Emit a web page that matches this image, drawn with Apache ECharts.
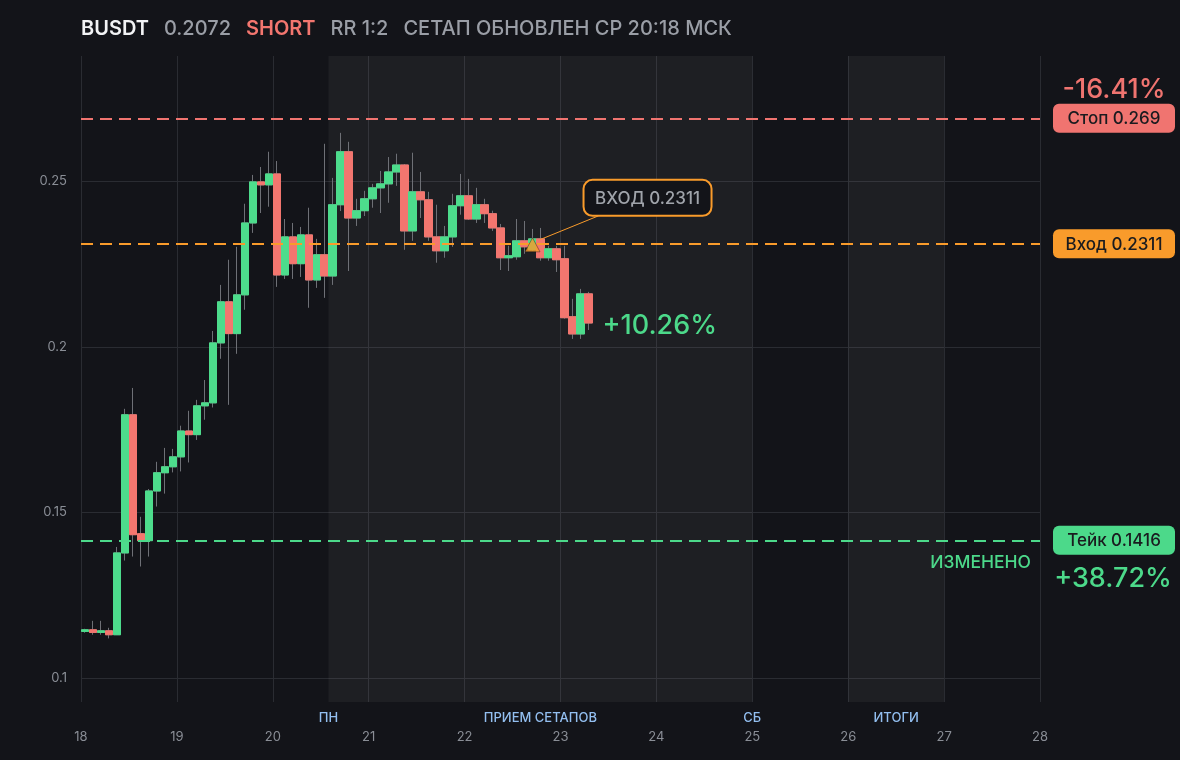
<!DOCTYPE html>
<html>
<head>
<meta charset="utf-8">
<script src="https://cdn.jsdelivr.net/npm/echarts@6/dist/echarts.min.js"></script>
<style>
html,body{margin:0;padding:0;background:#131419;}
#chart{width:1180px;height:760px;}
</style>
</head>
<body>
<div id="chart"></div>
<script>
// ---- header texts ----
const symbolName = 'BUSDT';
const lastPrice = '0.2072';
const sideText = 'SHORT';
const rrText = 'RR 1:2';
const updatedText = 'СЕТАП ОБНОВЛЕН СР 20:18 МСК';

// ---- candles: 2-hour bars starting on day 18 ----
const startDay = 18;
const barHours = 2;
const opens  = [0.1141,0.1146,0.1138,0.1143,0.1131,0.1378,0.1795,0.1436,0.1415,0.1565,0.1620,0.1638,0.1668,0.1746,0.1735,0.1822,
                0.1831,0.2012,0.2136,0.2040,0.2157,0.2374,0.2498,0.2489,0.2522,0.2217,0.2332,0.2251,0.2338,0.2202,0.2278,0.2214,
                0.2429,0.2589,0.2389,0.2411,0.2447,0.2480,0.2492,0.2528,0.2549,0.2350,0.2468,0.2444,0.2332,0.2290,0.2332,0.2426,
                0.2456,0.2386,0.2429,0.2402,0.2359,0.2269,0.2272,0.2320,0.2293,0.2326,0.2269,0.2296,0.2266,0.2091,0.2039,0.2160];
const closes = [0.1146,0.1138,0.1143,0.1131,0.1378,0.1795,0.1433,0.1415,0.1565,0.1620,0.1638,0.1668,0.1746,0.1735,0.1822,0.1831,
                0.2012,0.2136,0.2040,0.2157,0.2374,0.2498,0.2489,0.2522,0.2217,0.2332,0.2251,0.2338,0.2202,0.2278,0.2214,0.2429,
                0.2589,0.2389,0.2411,0.2447,0.2480,0.2492,0.2528,0.2549,0.2350,0.2468,0.2444,0.2332,0.2290,0.2332,0.2426,0.2456,
                0.2386,0.2429,0.2402,0.2359,0.2269,0.2275,0.2320,0.2302,0.2326,0.2269,0.2296,0.2263,0.2088,0.2039,0.2160,0.2072];
const lows   = [0.1137,0.1131,0.1131,0.1120,0.1131,0.1355,0.1367,0.1337,0.1367,0.1518,0.1557,0.1621,0.1624,0.1651,0.1719,0.1780,
                0.1817,0.1964,0.1825,0.1979,0.2112,0.2344,0.2404,0.2423,0.2181,0.2205,0.2205,0.2211,0.2118,0.2178,0.2148,0.2187,
                0.2410,0.2229,0.2365,0.2395,0.2420,0.2404,0.2435,0.2486,0.2293,0.2320,0.2389,0.2320,0.2254,0.2269,0.2302,0.2399,
                0.2383,0.2374,0.2374,0.2350,0.2232,0.2229,0.2263,0.2281,0.2290,0.2260,0.2260,0.2226,0.2085,0.2024,0.2024,0.2051];
const highs  = [0.1149,0.1173,0.1173,0.1152,0.1396,0.1813,0.1876,0.1487,0.1571,0.1653,0.1695,0.1692,0.1762,0.1807,0.1840,0.1900,
                0.2048,0.2187,0.2263,0.2302,0.2432,0.2519,0.2543,0.2589,0.2561,0.2386,0.2374,0.2362,0.2420,0.2326,0.2613,0.2510,
                0.2646,0.2619,0.2447,0.2471,0.2492,0.2531,0.2573,0.2583,0.2552,0.2586,0.2528,0.2468,0.2429,0.2365,0.2462,0.2522,
                0.2507,0.2480,0.2447,0.2411,0.2371,0.2305,0.2386,0.2380,0.2356,0.2359,0.2305,0.2305,0.2305,0.2145,0.2175,0.2166];

// ---- axes ----
const dayMin = 18, dayMax = 28;
const priceTicks = [0.1, 0.15, 0.2, 0.25];
const priceMin = 0.0928, priceMax = 0.2878;

// ---- setup levels ----
const stopPrice = 0.269, entryPrice = 0.2311, takePrice = 0.1416;
const stopLabel = 'Стоп 0.269', entryLabel = 'Вход 0.2311', takeLabel = 'Тейк 0.1416';
const stopPct = '-16.41%', takePct = '+38.72%', currentPct = '+10.26%';
const takeNote = 'ИЗМЕНЕНО';
const entryBarIndex = 56;
const entryNote = 'ВХОД 0.2311';

// ---- shaded zones and their captions ----
const zones = [[20.58, 25], [26, 27]];
const zoneCaptions = [['ПН', 20.58], ['ПРИЕМ СЕТАПОВ', 22.79], ['СБ', 25], ['ИТОГИ', 26.5]];

const C = {
  bg: '#131419', grid: '#2a2c32', axisText: '#8a8e96', up: '#4ddc8c', down: '#f3766f',
  wick: '#6e7076', stop: '#f07470', entry: '#f99b2b', take: '#4cd98a', zoneText: '#93bff0', title: '#9a9ea6'
};
const FONT = 'Inter, "Noto Sans", sans-serif';

const barX = i => startDay + (barHours * i + barHours / 2) / 24;
const wickData = opens.map((o, i) => [barX(i), o, closes[i], lows[i], highs[i]]);
const bodyData = opens.map((o, i) => [barX(i), o, closes[i], Math.min(o, closes[i]), Math.max(o, closes[i])]);

const chart = echarts.init(document.getElementById('chart'), null, { renderer: 'canvas' });

const dash = [12, 7];
chart.setOption({
  backgroundColor: C.bg,
  animation: false,
  textStyle: { fontFamily: FONT },
  title: {
    left: 81, top: 19, padding: 0,
    text: '{a|' + symbolName + '}{b|' + lastPrice + '}{c|' + sideText + '}{b|' + rrText + '}{b|' + updatedText + '}',
    textStyle: {
      rich: {
        a: { color: '#f2f3f5', fontSize: 20, fontWeight: 600, fontFamily: FONT },
        b: { color: C.title, fontSize: 20, fontWeight: 500, fontFamily: FONT, padding: [0, 0, 0, 15] },
        c: { color: C.down, fontSize: 20, fontWeight: 600, fontFamily: FONT, padding: [0, 0, 0, 15] }
      }
    }
  },
  grid: { left: 81, right: 140, top: 56, bottom: 58, containLabel: false },
  xAxis: {
    type: 'value', min: dayMin, max: dayMax, interval: 1,
    axisLine: { show: false }, axisTick: { show: false },
    splitLine: { show: true, lineStyle: { color: C.grid, width: 1 } },
    axisLabel: { color: C.axisText, fontSize: 13, margin: 29, fontFamily: FONT }
  },
  yAxis: {
    type: 'value', min: priceMin, max: priceMax, scale: true,
    axisLine: { show: false },
    axisTick: { show: false, customValues: priceTicks },
    splitLine: { show: true, lineStyle: { color: C.grid, width: 1 } },
    axisLabel: { color: C.axisText, fontSize: 13, margin: 14, fontFamily: FONT, customValues: priceTicks }
  },
  series: [
    {
      type: 'candlestick', name: 'wick', silent: true, barWidth: 8,
      encode: { x: 0, y: [1, 2, 3, 4] },
      data: wickData,
      itemStyle: { color: C.wick, color0: C.wick, borderColor: C.wick, borderColor0: C.wick, borderColorDoji: C.wick, borderWidth: 1 },
      markArea: {
        silent: true,
        itemStyle: { color: 'rgba(255,255,255,0.048)' },
        data: zones.map(z => [{ xAxis: z[0] }, { xAxis: z[1] }])
      }
    },
    {
      type: 'candlestick', name: 'body', silent: true, barWidth: 8,
      encode: { x: 0, y: [1, 2, 3, 4] },
      data: bodyData,
      itemStyle: { color: C.up, color0: C.down, borderColor: C.up, borderColor0: C.down, borderColorDoji: C.up, borderWidth: 1 }
    },
    {
      type: 'line', name: 'levels', silent: true, symbol: 'none', z: 3,
      data: [],
      markLine: {
        silent: true, symbol: 'none', label: { show: false },
        data: [
          [{ coord: [dayMin, stopPrice] }, { coord: [dayMax, stopPrice], lineStyle: { color: C.stop, type: dash, width: 2 } }],
          [{ coord: [dayMin, entryPrice] }, { coord: [dayMax, entryPrice], lineStyle: { color: C.entry, type: dash, width: 2 } }],
          [{ coord: [dayMin, takePrice] }, { coord: [dayMax, takePrice], lineStyle: { color: C.take, type: dash, width: 2 } }]
        ]
      }
    },
    {
      type: 'scatter', silent: true, symbol: 'triangle', symbolSize: [15, 14], symbolOffset: [0, 1], z: 10,
      itemStyle: { color: C.entry, borderColor: '#131419', borderWidth: 0.5 },
      data: [[barX(entryBarIndex), entryPrice]]
    }
  ]
});

// ---- annotations positioned through the chart's own scales ----
const px = (x, y) => chart.convertToPixel({ gridIndex: 0 }, [x, y]);
const yPix = v => px(dayMin, v)[1];
const xPix = d => px(d, priceMin)[0];
const gridRight = xPix(dayMax);
const boxL = gridRight + 13, boxW = 122, boxH = 29;

function levelBox(value, text, color) {
  const y = yPix(value);
  return [
    { type: 'rect', shape: { x: boxL, y: y - boxH / 2, width: boxW, height: boxH, r: 6 }, style: { fill: color }, z: 10 },
    { type: 'text', x: boxL + boxW / 2, y: y + 1, style: { text: text, fill: '#1a1b1f', font: '500 17px ' + FONT, align: 'center', verticalAlign: 'middle' }, z: 11 }
  ];
}

const entryPx = px(barX(entryBarIndex), entryPrice);
const lastPx = px(barX(opens.length - 1), closes[closes.length - 1]);
const g = [];
g.push(...levelBox(stopPrice, stopLabel, C.stop));
g.push(...levelBox(entryPrice, entryLabel, C.entry));
g.push(...levelBox(takePrice, takeLabel, C.take));
g.push({ type: 'text', x: boxL + boxW / 2, y: yPix(stopPrice) - 28, style: { text: stopPct, fill: C.stop, font: '500 27px ' + FONT, align: 'center', verticalAlign: 'middle' }, z: 11 });
g.push({ type: 'text', x: boxL + boxW / 2 - 1, y: yPix(takePrice) + 39, style: { text: takePct, fill: C.take, font: '500 27px ' + FONT, align: 'center', verticalAlign: 'middle' }, z: 11 });
g.push({ type: 'text', x: gridRight - 9, y: yPix(takePrice) + 22, style: { text: takeNote, fill: C.take, font: '500 17.5px ' + FONT, align: 'right', verticalAlign: 'middle' }, z: 11 });
g.push({ type: 'text', x: lastPx[0] + 14, y: lastPx[1] + 3, style: { text: currentPct, fill: C.take, font: '500 27px ' + FONT, align: 'left', verticalAlign: 'middle' }, z: 11 });
// entry callout
g.push({ type: 'line', shape: { x1: entryPx[0] + 7, y1: entryPx[1] - 4, x2: entryPx[0] + 66, y2: entryPx[1] - 28 }, style: { stroke: C.entry, lineWidth: 1 }, z: 9 });
g.push({ type: 'rect', shape: { x: entryPx[0] + 51, y: entryPx[1] - 64, width: 128, height: 36, r: 9 }, style: { fill: C.bg, stroke: C.entry, lineWidth: 2 }, z: 10 });
g.push({ type: 'text', x: entryPx[0] + 115, y: entryPx[1] - 45, style: { text: entryNote, fill: '#a0a4ab', font: '500 17px ' + FONT, align: 'center', verticalAlign: 'middle' }, z: 11 });
// zone captions
const gridBottom = yPix(priceMin);
zoneCaptions.forEach(([t, d]) => {
  g.push({ type: 'text', x: xPix(d), y: gridBottom + 16, style: { text: t, fill: C.zoneText, font: '500 13px ' + FONT, align: 'center', verticalAlign: 'middle' }, z: 11 });
});
chart.setOption({ graphic: g });
</script>
</body>
</html>
